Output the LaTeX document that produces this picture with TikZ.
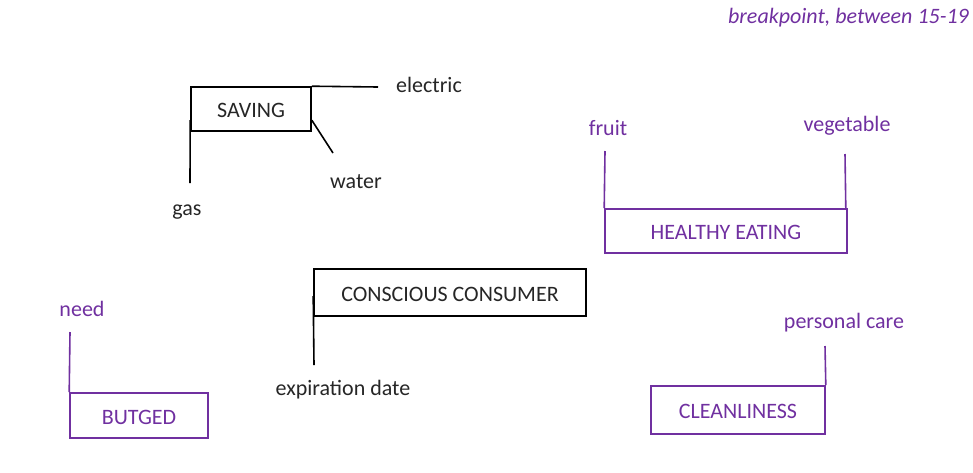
\documentclass[tikz,border=0pt]{standalone}
\usepackage{fontspec}
\setmainfont{Carlito}
\definecolor{grape}{HTML}{7030A0}
\begin{document}
\begin{tikzpicture}[x=1pt,y=-1pt,
  txt/.style={font=\fontsize{22}{26}\selectfont, inner sep=0pt, anchor=center},
  word/.style={txt, yshift=-2pt},
  topic/.style={txt, draw, line width=1.6pt, text height=17.5pt, text depth=0pt,
    minimum width=#1, minimum height=44pt},
  link/.style={line width=1.6pt},
  inkblack/.style={black, text=black!85},
  inkpurple/.style={grape, text=grape}]
\useasboundingbox (0,0) rectangle (973,472);

% black group: saving
\node[topic=120pt, inkblack] (sav) at (251,109) {SAVING};
\node[word, inkblack] (elec) at (429,83) {electric};
\node[word, inkblack] (water) at (356,180) {water};
\node[word, inkblack] (gas) at (187,210) {gas};
\coordinate (elecend) at (378,87);
\coordinate (waterend) at (333,153);
\coordinate (gasend) at (190,183);
\draw[link] (sav.north east) -- (elecend);
\draw[link] ([yshift=-34pt]sav.north east) -- (waterend);
\draw[link] ([yshift=-34pt]sav.north west) -- (gasend);

% black group: conscious consumer
\node[topic=272pt, minimum height=47pt, inkblack] (cons) at (450,292.5) {CONSCIOUS CONSUMER};
\node[word, inkblack] (expiry) at (343,388) {expiration date};
\coordinate (expend) at (314,365);
\draw[link] ([yshift=-28pt]cons.north west) -- (expend);

% purple group: healthy eating
\node[topic=242pt, inkpurple] (eat) at (726,231) {HEALTHY EATING};
\node[word, inkpurple] (fruit) at (608,126) {fruit};
\node[word, inkpurple] (veg) at (847,124) {vegetable};
\coordinate (fruitend) at (605,151);
\coordinate (vegend) at (845,154);
\draw[link, grape] (eat.north west) -- (fruitend);
\draw[link, grape] ([xshift=-2pt]eat.north east) -- (vegend);

% purple group: budget
\node[topic=138pt, minimum height=45pt, inkpurple] (bud) at (139,415.5) {BUTGED};
\node[word, inkpurple] (need) at (82,307) {need};
\coordinate (needend) at (70,332);
\draw[link, grape] (bud.north west) -- (needend);

% purple group: cleanliness
\node[topic=174pt, minimum height=48pt, inkpurple] (clean) at (738,410) {CLEANLINESS};
\node[word, inkpurple] (care) at (844,321) {personal care};
\coordinate (careend) at (825,346);
\draw[link, grape] (clean.north east) -- (careend);

% note in the corner
\node[word, inkpurple, font=\fontsize{22}{26}\selectfont\itshape, anchor=east] (note) at (969,16) {breakpoint, between 15-19};
\end{tikzpicture}
\end{document}
